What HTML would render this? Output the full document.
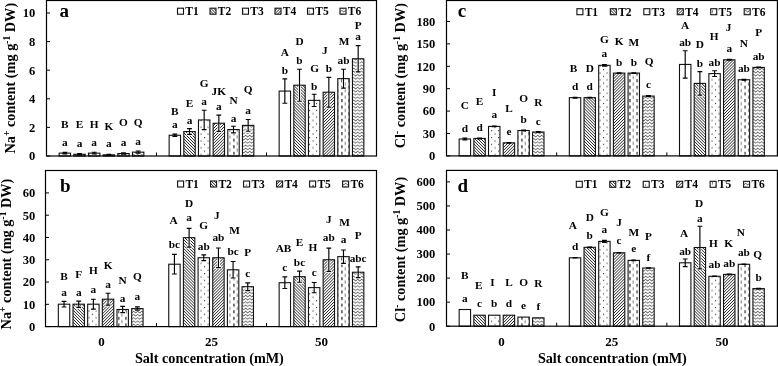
<!DOCTYPE html>
<html><head><meta charset="utf-8"><style>
html,body{margin:0;padding:0;background:#fff;width:778px;height:366px;overflow:hidden}
svg{display:block;will-change:transform}
text{font-family:"Liberation Serif", serif;font-weight:bold;fill:#000}
.l{font-size:11.3px;text-anchor:middle}
.t{font-size:12.5px}
.c{font-size:13px}
.p{font-size:19px}
.g{font-size:11.5px}
.y{font-size:14.3px}
.s{font-size:9.5px}
.x{font-size:14.2px}
</style></head><body>
<svg width="778" height="366" viewBox="0 0 778 366">
<defs>
<pattern id="p2" width="2.1" height="2.1" patternUnits="userSpaceOnUse" patternTransform="rotate(-45)"><rect x="0" y="0" width="0.72" height="2.1" fill="#222"/></pattern>
<pattern id="p4" width="2.1" height="2.1" patternUnits="userSpaceOnUse" patternTransform="rotate(45)"><rect x="0" y="0" width="0.72" height="2.1" fill="#222"/></pattern>
<pattern id="p3" width="7" height="6.8" patternUnits="userSpaceOnUse"><rect x="1" y="1" width="1.1" height="1.1" fill="#333"/><rect x="4.5" y="4.4" width="1.1" height="1.1" fill="#333"/></pattern>
<pattern id="p5" width="7.2" height="6.6" patternUnits="userSpaceOnUse"><rect x="3" y="0" width="1.1" height="3.1" fill="#1a1a1a"/><rect x="6.6" y="3.3" width="1.1" height="3.1" fill="#1a1a1a"/></pattern>
<pattern id="p6" width="4" height="3.2" patternUnits="userSpaceOnUse"><path d="M-2 0.9L-1 2.2L0 2.4L1 1.2L2 0.9L3 2.2L4 2.4L5 1.2L6 0.9" stroke="#333" stroke-width="0.8" fill="none"/></pattern>
</defs>
<rect x="59.14" y="153.14" width="11.4" height="2.86" fill="#fff"/>
<rect x="59.14" y="153.14" width="11.4" height="2.86" fill="none" stroke="#111" stroke-width="1.1"/>
<path d="M64.84 152.42V153.85M62.44 152.42H67.24M62.44 153.85H67.24" stroke="#000" stroke-width="1.15" fill="none"/>
<text x="64.84" y="146.29" class="l">a</text>
<text x="64.84" y="127.79" class="l">B</text>
<rect x="73.81" y="154.28" width="11.4" height="1.72" fill="#fff"/>
<rect x="73.81" y="154.28" width="11.4" height="1.72" fill="url(#p2)"/>
<rect x="73.81" y="154.28" width="11.4" height="1.72" fill="none" stroke="#111" stroke-width="1.1"/>
<path d="M79.51 153.57V155M77.11 153.57H81.91M77.11 155H81.91" stroke="#000" stroke-width="1.15" fill="none"/>
<text x="79.51" y="146.89" class="l">a</text>
<text x="79.51" y="127.79" class="l">E</text>
<rect x="88.47" y="153.14" width="11.4" height="2.86" fill="#fff"/>
<rect x="88.47" y="153.14" width="11.4" height="2.86" fill="url(#p3)"/>
<rect x="88.47" y="153.14" width="11.4" height="2.86" fill="none" stroke="#111" stroke-width="1.1"/>
<path d="M94.17 152.28V154M91.77 152.28H96.57M91.77 154H96.57" stroke="#000" stroke-width="1.15" fill="none"/>
<text x="94.17" y="145.99" class="l">a</text>
<text x="94.17" y="127.79" class="l">H</text>
<rect x="103.13" y="154.86" width="11.4" height="1.14" fill="#fff"/>
<rect x="103.13" y="154.86" width="11.4" height="1.14" fill="url(#p4)"/>
<rect x="103.13" y="154.86" width="11.4" height="1.14" fill="none" stroke="#111" stroke-width="1.1"/>
<path d="M108.83 154.43V155.28M106.43 154.43H111.23M106.43 155.28H111.23" stroke="#000" stroke-width="1.15" fill="none"/>
<text x="108.83" y="147.19" class="l">a</text>
<text x="108.83" y="130.19" class="l">K</text>
<rect x="117.8" y="153.57" width="11.4" height="2.43" fill="#fff"/>
<rect x="117.8" y="153.57" width="11.4" height="2.43" fill="url(#p5)"/>
<rect x="117.8" y="153.57" width="11.4" height="2.43" fill="none" stroke="#111" stroke-width="1.1"/>
<path d="M123.49 152.85V154.28M121.09 152.85H125.89M121.09 154.28H125.89" stroke="#000" stroke-width="1.15" fill="none"/>
<text x="123.49" y="145.99" class="l">a</text>
<text x="123.49" y="126.19" class="l">O</text>
<rect x="132.46" y="152.14" width="11.4" height="3.86" fill="#fff"/>
<rect x="132.46" y="152.14" width="11.4" height="3.86" fill="url(#p6)"/>
<rect x="132.46" y="152.14" width="11.4" height="3.86" fill="none" stroke="#111" stroke-width="1.1"/>
<path d="M138.16 151V153.28M135.76 151H140.56M135.76 153.28H140.56" stroke="#000" stroke-width="1.15" fill="none"/>
<text x="138.16" y="144.99" class="l">a</text>
<text x="138.16" y="126.49" class="l">Q</text>
<rect x="169.14" y="135.26" width="11.4" height="20.74" fill="#fff"/>
<rect x="169.14" y="135.26" width="11.4" height="20.74" fill="none" stroke="#111" stroke-width="1.1"/>
<path d="M174.84 134.12V136.41M172.44 134.12H177.24M172.44 136.41H177.24" stroke="#000" stroke-width="1.15" fill="none"/>
<text x="174.84" y="127.69" class="l">a</text>
<text x="174.84" y="114.69" class="l">B</text>
<rect x="183.81" y="131.55" width="11.4" height="24.45" fill="#fff"/>
<rect x="183.81" y="131.55" width="11.4" height="24.45" fill="url(#p2)"/>
<rect x="183.81" y="131.55" width="11.4" height="24.45" fill="none" stroke="#111" stroke-width="1.1"/>
<path d="M189.51 132.15V135.61M186.31 134.41H192.71" stroke="#fff" stroke-width="2.8" fill="none"/>
<path d="M189.51 128.69V134.41M187.11 128.69H191.91M187.11 134.41H191.91" stroke="#000" stroke-width="1.15" fill="none"/>
<text x="189.51" y="123.99" class="l">a</text>
<text x="189.51" y="107.09" class="l">E</text>
<rect x="198.47" y="119.96" width="11.4" height="36.04" fill="#fff"/>
<rect x="198.47" y="119.96" width="11.4" height="36.04" fill="url(#p3)"/>
<rect x="198.47" y="119.96" width="11.4" height="36.04" fill="none" stroke="#111" stroke-width="1.1"/>
<path d="M204.17 120.56V130.89M200.97 129.69H207.37" stroke="#fff" stroke-width="2.8" fill="none"/>
<path d="M204.17 110.24V129.69M201.77 110.24H206.57M201.77 129.69H206.57" stroke="#000" stroke-width="1.15" fill="none"/>
<text x="204.17" y="105.39" class="l">a</text>
<text x="204.17" y="86.79" class="l">G</text>
<rect x="213.13" y="123.25" width="11.4" height="32.75" fill="#fff"/>
<rect x="213.13" y="123.25" width="11.4" height="32.75" fill="url(#p4)"/>
<rect x="213.13" y="123.25" width="11.4" height="32.75" fill="none" stroke="#111" stroke-width="1.1"/>
<path d="M218.83 123.85V132.6M215.63 131.4H222.03" stroke="#fff" stroke-width="2.8" fill="none"/>
<path d="M218.83 115.1V131.4M216.43 115.1H221.23M216.43 131.4H221.23" stroke="#000" stroke-width="1.15" fill="none"/>
<text x="218.83" y="109.79" class="l">a</text>
<text x="218.83" y="94.59" class="l">JK</text>
<rect x="227.8" y="129.54" width="11.4" height="26.46" fill="#fff"/>
<rect x="227.8" y="129.54" width="11.4" height="26.46" fill="url(#p5)"/>
<rect x="227.8" y="129.54" width="11.4" height="26.46" fill="none" stroke="#111" stroke-width="1.1"/>
<path d="M233.49 130.14V134.03M230.29 132.83H236.69" stroke="#fff" stroke-width="2.8" fill="none"/>
<path d="M233.49 126.26V132.83M231.09 126.26H235.89M231.09 132.83H235.89" stroke="#000" stroke-width="1.15" fill="none"/>
<text x="233.49" y="121.79" class="l">a</text>
<text x="233.49" y="103.79" class="l">N</text>
<rect x="242.46" y="125.4" width="11.4" height="30.6" fill="#fff"/>
<rect x="242.46" y="125.4" width="11.4" height="30.6" fill="url(#p6)"/>
<rect x="242.46" y="125.4" width="11.4" height="30.6" fill="none" stroke="#111" stroke-width="1.1"/>
<path d="M248.16 126V132.46M244.96 131.26H251.36" stroke="#fff" stroke-width="2.8" fill="none"/>
<path d="M248.16 119.53V131.26M245.76 119.53H250.56M245.76 131.26H250.56" stroke="#000" stroke-width="1.15" fill="none"/>
<text x="248.16" y="113.69" class="l">a</text>
<text x="248.16" y="92.89" class="l">Q</text>
<rect x="279.14" y="91.08" width="11.4" height="64.92" fill="#fff"/>
<rect x="279.14" y="91.08" width="11.4" height="64.92" fill="none" stroke="#111" stroke-width="1.1"/>
<path d="M284.84 78.92V103.23M282.44 78.92H287.24M282.44 103.23H287.24" stroke="#000" stroke-width="1.15" fill="none"/>
<text x="284.84" y="74.19" class="l">b</text>
<text x="284.84" y="55.59" class="l">A</text>
<rect x="293.81" y="85.21" width="11.4" height="70.79" fill="#fff"/>
<rect x="293.81" y="85.21" width="11.4" height="70.79" fill="url(#p2)"/>
<rect x="293.81" y="85.21" width="11.4" height="70.79" fill="none" stroke="#111" stroke-width="1.1"/>
<path d="M299.51 85.81V102.43M296.31 101.23H302.71" stroke="#fff" stroke-width="2.8" fill="none"/>
<path d="M299.51 69.2V101.23M297.11 69.2H301.91M297.11 101.23H301.91" stroke="#000" stroke-width="1.15" fill="none"/>
<text x="299.51" y="64.29" class="l">b</text>
<text x="299.51" y="45.09" class="l">D</text>
<rect x="308.47" y="100.37" width="11.4" height="55.63" fill="#fff"/>
<rect x="308.47" y="100.37" width="11.4" height="55.63" fill="url(#p3)"/>
<rect x="308.47" y="100.37" width="11.4" height="55.63" fill="none" stroke="#111" stroke-width="1.1"/>
<path d="M314.17 100.97V107.72M310.97 106.52H317.37" stroke="#fff" stroke-width="2.8" fill="none"/>
<path d="M314.17 94.22V106.52M311.77 94.22H316.57M311.77 106.52H316.57" stroke="#000" stroke-width="1.15" fill="none"/>
<text x="314.17" y="89.89" class="l">b</text>
<text x="314.67" y="72.39" class="l">G</text>
<rect x="323.13" y="92.22" width="11.4" height="63.78" fill="#fff"/>
<rect x="323.13" y="92.22" width="11.4" height="63.78" fill="url(#p4)"/>
<rect x="323.13" y="92.22" width="11.4" height="63.78" fill="none" stroke="#111" stroke-width="1.1"/>
<path d="M328.83 92.82V108.29M325.63 107.09H332.03" stroke="#fff" stroke-width="2.8" fill="none"/>
<path d="M328.83 77.35V107.09M326.43 77.35H331.23M326.43 107.09H331.23" stroke="#000" stroke-width="1.15" fill="none"/>
<text x="328.83" y="71.69" class="l">b</text>
<text x="324.83" y="53.79" class="l">J</text>
<rect x="337.8" y="78.64" width="11.4" height="77.36" fill="#fff"/>
<rect x="337.8" y="78.64" width="11.4" height="77.36" fill="url(#p5)"/>
<rect x="337.8" y="78.64" width="11.4" height="77.36" fill="none" stroke="#111" stroke-width="1.1"/>
<path d="M343.49 79.24V89.28M340.29 88.08H346.69" stroke="#fff" stroke-width="2.8" fill="none"/>
<path d="M343.49 69.2V88.08M341.09 69.2H345.89M341.09 88.08H345.89" stroke="#000" stroke-width="1.15" fill="none"/>
<text x="343.49" y="64.29" class="l">ab</text>
<text x="344.09" y="44.59" class="l">M</text>
<rect x="352.46" y="58.76" width="11.4" height="97.24" fill="#fff"/>
<rect x="352.46" y="58.76" width="11.4" height="97.24" fill="url(#p6)"/>
<rect x="352.46" y="58.76" width="11.4" height="97.24" fill="none" stroke="#111" stroke-width="1.1"/>
<path d="M358.16 59.36V73.12M354.96 71.92H361.36" stroke="#fff" stroke-width="2.8" fill="none"/>
<path d="M358.16 45.6V71.92M355.76 45.6H360.56M355.76 71.92H360.56" stroke="#000" stroke-width="1.15" fill="none"/>
<text x="358.16" y="40.09" class="l">a</text>
<text x="358.16" y="29.29" class="l">P</text>
<rect x="46.5" y="0.5" width="330" height="155.5" fill="none" stroke="#000" stroke-width="1.2"/>
<path d="M46.5 156H50" stroke="#000" stroke-width="1"/>
<text x="35.3" y="160.3" class="t" text-anchor="end">0</text>
<path d="M46.5 127.4H50" stroke="#000" stroke-width="1"/>
<text x="35.3" y="131.7" class="t" text-anchor="end">2</text>
<path d="M46.5 98.8H50" stroke="#000" stroke-width="1"/>
<text x="35.3" y="103.1" class="t" text-anchor="end">4</text>
<path d="M46.5 70.2H50" stroke="#000" stroke-width="1"/>
<text x="35.3" y="74.5" class="t" text-anchor="end">6</text>
<path d="M46.5 41.6H50" stroke="#000" stroke-width="1"/>
<text x="35.3" y="45.9" class="t" text-anchor="end">8</text>
<path d="M46.5 13H50" stroke="#000" stroke-width="1"/>
<text x="35.3" y="17.3" class="t" text-anchor="end">10</text>
<path d="M156.5 156V152.5" stroke="#000" stroke-width="1"/>
<path d="M266.5 156V152.5" stroke="#000" stroke-width="1"/>
<text x="59.4" y="17" class="p">a</text>
<rect x="177.5" y="8.2" width="6" height="6" fill="#fff" stroke="#111" stroke-width="1.1"/>
<text x="185.3" y="15.1" class="g">T1</text>
<rect x="210" y="8.2" width="6" height="6" fill="#fff" stroke="#111" stroke-width="1.1"/>
<rect x="210" y="8.2" width="6" height="6" fill="url(#p2)"/>
<text x="217.8" y="15.1" class="g">T2</text>
<rect x="242.5" y="8.2" width="6" height="6" fill="#fff" stroke="#111" stroke-width="1.1"/>
<rect x="242.5" y="8.2" width="6" height="6" fill="url(#p3)"/>
<text x="250.3" y="15.1" class="g">T3</text>
<rect x="275" y="8.2" width="6" height="6" fill="#fff" stroke="#111" stroke-width="1.1"/>
<rect x="275" y="8.2" width="6" height="6" fill="url(#p4)"/>
<text x="282.8" y="15.1" class="g">T4</text>
<rect x="307.5" y="8.2" width="6" height="6" fill="#fff" stroke="#111" stroke-width="1.1"/>
<rect x="307.5" y="8.2" width="6" height="6" fill="url(#p5)"/>
<text x="315.3" y="15.1" class="g">T5</text>
<rect x="340" y="8.2" width="6" height="6" fill="#fff" stroke="#111" stroke-width="1.1"/>
<rect x="340" y="8.2" width="6" height="6" fill="url(#p6)"/>
<text x="347.8" y="15.1" class="g">T6</text>
<text transform="translate(14.8 78.2) rotate(-90)" class="y" text-anchor="middle">Na<tspan class="s" dy="-5">+</tspan><tspan dy="5"> content (mg g</tspan><tspan class="s" dy="-5">-1</tspan><tspan dy="5"> DW)</tspan></text>
<rect x="58.34" y="304.19" width="11.4" height="22.41" fill="#fff"/>
<rect x="58.34" y="304.19" width="11.4" height="22.41" fill="none" stroke="#111" stroke-width="1.1"/>
<path d="M64.04 301.38V306.99M61.64 301.38H66.44M61.64 306.99H66.44" stroke="#000" stroke-width="1.15" fill="none"/>
<text x="64.04" y="296.29" class="l">a</text>
<text x="64.04" y="280.49" class="l">B</text>
<rect x="73.01" y="304.19" width="11.4" height="22.41" fill="#fff"/>
<rect x="73.01" y="304.19" width="11.4" height="22.41" fill="url(#p2)"/>
<rect x="73.01" y="304.19" width="11.4" height="22.41" fill="none" stroke="#111" stroke-width="1.1"/>
<path d="M78.71 304.79V308.51M75.51 307.31H81.91" stroke="#fff" stroke-width="2.8" fill="none"/>
<path d="M78.71 301.07V307.31M76.31 301.07H81.11M76.31 307.31H81.11" stroke="#000" stroke-width="1.15" fill="none"/>
<text x="78.71" y="296.29" class="l">a</text>
<text x="78.71" y="277.89" class="l">F</text>
<rect x="87.67" y="304.19" width="11.4" height="22.41" fill="#fff"/>
<rect x="87.67" y="304.19" width="11.4" height="22.41" fill="url(#p3)"/>
<rect x="87.67" y="304.19" width="11.4" height="22.41" fill="none" stroke="#111" stroke-width="1.1"/>
<path d="M93.37 304.79V310.29M90.17 309.09H96.57" stroke="#fff" stroke-width="2.8" fill="none"/>
<path d="M93.37 299.28V309.09M90.97 299.28H95.77M90.97 309.09H95.77" stroke="#000" stroke-width="1.15" fill="none"/>
<text x="93.37" y="293.49" class="l">a</text>
<text x="93.37" y="274.39" class="l">H</text>
<rect x="102.33" y="299.2" width="11.4" height="27.4" fill="#fff"/>
<rect x="102.33" y="299.2" width="11.4" height="27.4" fill="url(#p4)"/>
<rect x="102.33" y="299.2" width="11.4" height="27.4" fill="none" stroke="#111" stroke-width="1.1"/>
<path d="M108.03 299.8V306.3M104.83 305.1H111.23" stroke="#fff" stroke-width="2.8" fill="none"/>
<path d="M108.03 293.29V305.1M105.63 293.29H110.43M105.63 305.1H110.43" stroke="#000" stroke-width="1.15" fill="none"/>
<text x="108.03" y="288.19" class="l">a</text>
<text x="108.03" y="268.89" class="l">K</text>
<rect x="117" y="309.49" width="11.4" height="17.11" fill="#fff"/>
<rect x="117" y="309.49" width="11.4" height="17.11" fill="url(#p5)"/>
<rect x="117" y="309.49" width="11.4" height="17.11" fill="none" stroke="#111" stroke-width="1.1"/>
<path d="M122.69 310.09V313.81M119.49 312.61H125.89" stroke="#fff" stroke-width="2.8" fill="none"/>
<path d="M122.69 306.37V312.61M120.29 306.37H125.09M120.29 312.61H125.09" stroke="#000" stroke-width="1.15" fill="none"/>
<text x="122.69" y="301.79" class="l">a</text>
<text x="122.69" y="283.79" class="l">N</text>
<rect x="131.66" y="308.6" width="11.4" height="18" fill="#fff"/>
<rect x="131.66" y="308.6" width="11.4" height="18" fill="url(#p6)"/>
<rect x="131.66" y="308.6" width="11.4" height="18" fill="none" stroke="#111" stroke-width="1.1"/>
<path d="M137.36 306.9V310.29M134.96 306.9H139.76M134.96 310.29H139.76" stroke="#000" stroke-width="1.15" fill="none"/>
<text x="137.36" y="300.29" class="l">a</text>
<text x="137.36" y="279.89" class="l">Q</text>
<rect x="168.74" y="264.22" width="11.4" height="62.38" fill="#fff"/>
<rect x="168.74" y="264.22" width="11.4" height="62.38" fill="none" stroke="#111" stroke-width="1.1"/>
<path d="M174.44 254.41V274.02M172.04 254.41H176.84M172.04 274.02H176.84" stroke="#000" stroke-width="1.15" fill="none"/>
<text x="174.44" y="247.89" class="l">bc</text>
<text x="173.54" y="224.49" class="l">A</text>
<rect x="183.41" y="237.7" width="11.4" height="88.9" fill="#fff"/>
<rect x="183.41" y="237.7" width="11.4" height="88.9" fill="url(#p2)"/>
<rect x="183.41" y="237.7" width="11.4" height="88.9" fill="none" stroke="#111" stroke-width="1.1"/>
<path d="M189.11 238.3V248.26M185.91 247.06H192.31" stroke="#fff" stroke-width="2.8" fill="none"/>
<path d="M189.11 228.35V247.06M186.71 228.35H191.51M186.71 247.06H191.51" stroke="#000" stroke-width="1.15" fill="none"/>
<text x="189.11" y="220.99" class="l">a</text>
<text x="189.11" y="206.99" class="l">D</text>
<rect x="198.07" y="257.75" width="11.4" height="68.85" fill="#fff"/>
<rect x="198.07" y="257.75" width="11.4" height="68.85" fill="url(#p3)"/>
<rect x="198.07" y="257.75" width="11.4" height="68.85" fill="none" stroke="#111" stroke-width="1.1"/>
<path d="M203.77 258.35V261.85M200.57 260.65H206.97" stroke="#fff" stroke-width="2.8" fill="none"/>
<path d="M203.77 254.86V260.65M201.37 254.86H206.17M201.37 260.65H206.17" stroke="#000" stroke-width="1.15" fill="none"/>
<text x="203.77" y="249.59" class="l">ab</text>
<text x="203.77" y="228.79" class="l">G</text>
<rect x="212.73" y="257.75" width="11.4" height="68.85" fill="#fff"/>
<rect x="212.73" y="257.75" width="11.4" height="68.85" fill="url(#p4)"/>
<rect x="212.73" y="257.75" width="11.4" height="68.85" fill="none" stroke="#111" stroke-width="1.1"/>
<path d="M218.43 258.35V268.76M215.23 267.56H221.63" stroke="#fff" stroke-width="2.8" fill="none"/>
<path d="M218.43 247.95V267.56M216.03 247.95H220.83M216.03 267.56H220.83" stroke="#000" stroke-width="1.15" fill="none"/>
<text x="218.43" y="240.89" class="l">ab</text>
<text x="216.93" y="219.39" class="l">J</text>
<rect x="227.4" y="269.79" width="11.4" height="56.81" fill="#fff"/>
<rect x="227.4" y="269.79" width="11.4" height="56.81" fill="url(#p5)"/>
<rect x="227.4" y="269.79" width="11.4" height="56.81" fill="none" stroke="#111" stroke-width="1.1"/>
<path d="M233.09 270.39V279.23M229.89 278.03H236.29" stroke="#fff" stroke-width="2.8" fill="none"/>
<path d="M233.09 261.54V278.03M230.69 261.54H235.49M230.69 278.03H235.49" stroke="#000" stroke-width="1.15" fill="none"/>
<text x="233.09" y="255.09" class="l">bc</text>
<text x="234.59" y="233.69" class="l">M</text>
<rect x="242.06" y="286.72" width="11.4" height="39.88" fill="#fff"/>
<rect x="242.06" y="286.72" width="11.4" height="39.88" fill="url(#p6)"/>
<rect x="242.06" y="286.72" width="11.4" height="39.88" fill="none" stroke="#111" stroke-width="1.1"/>
<path d="M247.76 287.32V291.82M244.56 290.62H250.96" stroke="#fff" stroke-width="2.8" fill="none"/>
<path d="M247.76 282.82V290.62M245.36 282.82H250.16M245.36 290.62H250.16" stroke="#000" stroke-width="1.15" fill="none"/>
<text x="247.76" y="277.09" class="l">c</text>
<text x="247.76" y="255.99" class="l">P</text>
<rect x="279.14" y="282.71" width="11.4" height="43.89" fill="#fff"/>
<rect x="279.14" y="282.71" width="11.4" height="43.89" fill="none" stroke="#111" stroke-width="1.1"/>
<path d="M284.84 276.92V288.5M282.44 276.92H287.24M282.44 288.5H287.24" stroke="#000" stroke-width="1.15" fill="none"/>
<text x="284.84" y="271.19" class="l">c</text>
<text x="283.54" y="251.79" class="l">AB</text>
<rect x="293.81" y="276.69" width="11.4" height="49.91" fill="#fff"/>
<rect x="293.81" y="276.69" width="11.4" height="49.91" fill="url(#p2)"/>
<rect x="293.81" y="276.69" width="11.4" height="49.91" fill="none" stroke="#111" stroke-width="1.1"/>
<path d="M299.51 277.29V283.46M296.31 282.26H302.71" stroke="#fff" stroke-width="2.8" fill="none"/>
<path d="M299.51 271.12V282.26M297.11 271.12H301.91M297.11 282.26H301.91" stroke="#000" stroke-width="1.15" fill="none"/>
<text x="299.51" y="265.89" class="l">bc</text>
<text x="299.51" y="246.29" class="l">E</text>
<rect x="308.47" y="287.61" width="11.4" height="38.99" fill="#fff"/>
<rect x="308.47" y="287.61" width="11.4" height="38.99" fill="url(#p3)"/>
<rect x="308.47" y="287.61" width="11.4" height="38.99" fill="none" stroke="#111" stroke-width="1.1"/>
<path d="M314.17 288.21V293.93M310.97 292.73H317.37" stroke="#fff" stroke-width="2.8" fill="none"/>
<path d="M314.17 282.49V292.73M311.77 282.49H316.57M311.77 292.73H316.57" stroke="#000" stroke-width="1.15" fill="none"/>
<text x="314.17" y="276.19" class="l">c</text>
<text x="312.87" y="250.69" class="l">H</text>
<rect x="323.13" y="259.76" width="11.4" height="66.84" fill="#fff"/>
<rect x="323.13" y="259.76" width="11.4" height="66.84" fill="url(#p4)"/>
<rect x="323.13" y="259.76" width="11.4" height="66.84" fill="none" stroke="#111" stroke-width="1.1"/>
<path d="M328.83 260.36V272.55M325.63 271.35H332.03" stroke="#fff" stroke-width="2.8" fill="none"/>
<path d="M328.83 248.17V271.35M326.43 248.17H331.23M326.43 271.35H331.23" stroke="#000" stroke-width="1.15" fill="none"/>
<text x="328.83" y="240.89" class="l">ab</text>
<text x="328.83" y="223.39" class="l">J</text>
<rect x="337.8" y="256.64" width="11.4" height="69.96" fill="#fff"/>
<rect x="337.8" y="256.64" width="11.4" height="69.96" fill="url(#p5)"/>
<rect x="337.8" y="256.64" width="11.4" height="69.96" fill="none" stroke="#111" stroke-width="1.1"/>
<path d="M343.49 257.24V264.52M340.29 263.32H346.69" stroke="#fff" stroke-width="2.8" fill="none"/>
<path d="M343.49 249.96V263.32M341.09 249.96H345.89M341.09 263.32H345.89" stroke="#000" stroke-width="1.15" fill="none"/>
<text x="343.49" y="242.89" class="l">a</text>
<text x="344.59" y="226.39" class="l">M</text>
<rect x="352.46" y="272.24" width="11.4" height="54.36" fill="#fff"/>
<rect x="352.46" y="272.24" width="11.4" height="54.36" fill="url(#p6)"/>
<rect x="352.46" y="272.24" width="11.4" height="54.36" fill="none" stroke="#111" stroke-width="1.1"/>
<path d="M358.16 272.84V278.78M354.96 277.58H361.36" stroke="#fff" stroke-width="2.8" fill="none"/>
<path d="M358.16 266.89V277.58M355.76 266.89H360.56M355.76 277.58H360.56" stroke="#000" stroke-width="1.15" fill="none"/>
<text x="358.16" y="261.59" class="l">abc</text>
<text x="358.16" y="238.69" class="l">P</text>
<rect x="45.5" y="170.5" width="331" height="156.1" fill="none" stroke="#000" stroke-width="1.2"/>
<path d="M45.5 326.6H49" stroke="#000" stroke-width="1"/>
<text x="35.3" y="330.9" class="t" text-anchor="end">0</text>
<path d="M45.5 304.32H49" stroke="#000" stroke-width="1"/>
<text x="35.3" y="308.62" class="t" text-anchor="end">10</text>
<path d="M45.5 282.04H49" stroke="#000" stroke-width="1"/>
<text x="35.3" y="286.34" class="t" text-anchor="end">20</text>
<path d="M45.5 259.76H49" stroke="#000" stroke-width="1"/>
<text x="35.3" y="264.06" class="t" text-anchor="end">30</text>
<path d="M45.5 237.48H49" stroke="#000" stroke-width="1"/>
<text x="35.3" y="241.78" class="t" text-anchor="end">40</text>
<path d="M45.5 215.2H49" stroke="#000" stroke-width="1"/>
<text x="35.3" y="219.5" class="t" text-anchor="end">50</text>
<path d="M45.5 192.92H49" stroke="#000" stroke-width="1"/>
<text x="35.3" y="197.22" class="t" text-anchor="end">60</text>
<path d="M156.5 326.6V323.1" stroke="#000" stroke-width="1"/>
<path d="M266.5 326.6V323.1" stroke="#000" stroke-width="1"/>
<text x="60" y="191.5" class="p">b</text>
<rect x="177.6" y="181" width="6" height="6" fill="#fff" stroke="#111" stroke-width="1.1"/>
<text x="185.4" y="187.9" class="g">T1</text>
<rect x="210.6" y="181" width="6" height="6" fill="#fff" stroke="#111" stroke-width="1.1"/>
<rect x="210.6" y="181" width="6" height="6" fill="url(#p2)"/>
<text x="218.4" y="187.9" class="g">T2</text>
<rect x="243.6" y="181" width="6" height="6" fill="#fff" stroke="#111" stroke-width="1.1"/>
<rect x="243.6" y="181" width="6" height="6" fill="url(#p3)"/>
<text x="251.4" y="187.9" class="g">T3</text>
<rect x="276.6" y="181" width="6" height="6" fill="#fff" stroke="#111" stroke-width="1.1"/>
<rect x="276.6" y="181" width="6" height="6" fill="url(#p4)"/>
<text x="284.4" y="187.9" class="g">T4</text>
<rect x="309.6" y="181" width="6" height="6" fill="#fff" stroke="#111" stroke-width="1.1"/>
<rect x="309.6" y="181" width="6" height="6" fill="url(#p5)"/>
<text x="317.4" y="187.9" class="g">T5</text>
<rect x="342.6" y="181" width="6" height="6" fill="#fff" stroke="#111" stroke-width="1.1"/>
<rect x="342.6" y="181" width="6" height="6" fill="url(#p6)"/>
<text x="350.4" y="187.9" class="g">T6</text>
<text transform="translate(10.6 254) rotate(-90)" class="y" text-anchor="middle">Na<tspan class="s" dy="-5">+</tspan><tspan dy="5"> content (mg g</tspan><tspan class="s" dy="-5">-1</tspan><tspan dy="5"> DW)</tspan></text>
<rect x="459.16" y="139.02" width="11.41" height="16.88" fill="#fff"/>
<rect x="459.16" y="139.02" width="11.41" height="16.88" fill="none" stroke="#111" stroke-width="1.1"/>
<path d="M464.87 138.13V139.92M462.47 138.13H467.27M462.47 139.92H467.27" stroke="#000" stroke-width="1.15" fill="none"/>
<text x="464.87" y="131.69" class="l">d</text>
<text x="464.87" y="108.99" class="l">C</text>
<rect x="473.85" y="138.43" width="11.41" height="17.47" fill="#fff"/>
<rect x="473.85" y="138.43" width="11.41" height="17.47" fill="url(#p2)"/>
<rect x="473.85" y="138.43" width="11.41" height="17.47" fill="none" stroke="#111" stroke-width="1.1"/>
<path d="M479.56 137.98V138.88M477.16 137.98H481.96M477.16 138.88H481.96" stroke="#000" stroke-width="1.15" fill="none"/>
<text x="479.56" y="131.29" class="l">d</text>
<text x="479.56" y="104.59" class="l">E</text>
<rect x="488.53" y="126.41" width="11.41" height="29.49" fill="#fff"/>
<rect x="488.53" y="126.41" width="11.41" height="29.49" fill="url(#p3)"/>
<rect x="488.53" y="126.41" width="11.41" height="29.49" fill="none" stroke="#111" stroke-width="1.1"/>
<path d="M494.24 126.03V126.78M491.84 126.03H496.64M491.84 126.78H496.64" stroke="#000" stroke-width="1.15" fill="none"/>
<text x="494.24" y="118.19" class="l">a</text>
<text x="494.24" y="95.89" class="l">I</text>
<rect x="503.22" y="142.83" width="11.41" height="13.07" fill="#fff"/>
<rect x="503.22" y="142.83" width="11.41" height="13.07" fill="url(#p4)"/>
<rect x="503.22" y="142.83" width="11.41" height="13.07" fill="none" stroke="#111" stroke-width="1.1"/>
<path d="M508.93 142.46V143.21M506.53 142.46H511.33M506.53 143.21H511.33" stroke="#000" stroke-width="1.15" fill="none"/>
<text x="508.93" y="134.59" class="l">e</text>
<text x="508.93" y="111.59" class="l">L</text>
<rect x="517.9" y="130.51" width="11.41" height="25.39" fill="#fff"/>
<rect x="517.9" y="130.51" width="11.41" height="25.39" fill="url(#p5)"/>
<rect x="517.9" y="130.51" width="11.41" height="25.39" fill="none" stroke="#111" stroke-width="1.1"/>
<path d="M523.61 130.14V130.89M521.21 130.14H526.01M521.21 130.89H526.01" stroke="#000" stroke-width="1.15" fill="none"/>
<text x="523.61" y="122.59" class="l">b</text>
<text x="523.61" y="101.79" class="l">O</text>
<rect x="532.59" y="132.01" width="11.41" height="23.89" fill="#fff"/>
<rect x="532.59" y="132.01" width="11.41" height="23.89" fill="url(#p6)"/>
<rect x="532.59" y="132.01" width="11.41" height="23.89" fill="none" stroke="#111" stroke-width="1.1"/>
<path d="M538.3 131.63V132.38M535.9 131.63H540.7M535.9 132.38H540.7" stroke="#000" stroke-width="1.15" fill="none"/>
<text x="538.3" y="124.59" class="l">c</text>
<text x="538.3" y="106.19" class="l">R</text>
<rect x="569.33" y="97.66" width="11.41" height="58.24" fill="#fff"/>
<rect x="569.33" y="97.66" width="11.41" height="58.24" fill="none" stroke="#111" stroke-width="1.1"/>
<path d="M575.04 97.21V98.11M572.64 97.21H577.44M572.64 98.11H577.44" stroke="#000" stroke-width="1.15" fill="none"/>
<text x="575.04" y="89.89" class="l">d</text>
<text x="573.64" y="72.39" class="l">B</text>
<rect x="584.02" y="97.66" width="11.41" height="58.24" fill="#fff"/>
<rect x="584.02" y="97.66" width="11.41" height="58.24" fill="url(#p2)"/>
<rect x="584.02" y="97.66" width="11.41" height="58.24" fill="none" stroke="#111" stroke-width="1.1"/>
<path d="M589.72 97.28V98.03M587.32 97.28H592.12M587.32 98.03H592.12" stroke="#000" stroke-width="1.15" fill="none"/>
<text x="589.72" y="89.89" class="l">d</text>
<text x="589.72" y="72.39" class="l">D</text>
<rect x="598.7" y="65.33" width="11.41" height="90.57" fill="#fff"/>
<rect x="598.7" y="65.33" width="11.41" height="90.57" fill="url(#p3)"/>
<rect x="598.7" y="65.33" width="11.41" height="90.57" fill="none" stroke="#111" stroke-width="1.1"/>
<path d="M604.41 64.58V66.07M602.01 64.58H606.81M602.01 66.07H606.81" stroke="#000" stroke-width="1.15" fill="none"/>
<text x="604.41" y="57.19" class="l">a</text>
<text x="604.41" y="43.29" class="l">G</text>
<rect x="613.39" y="73.09" width="11.41" height="82.81" fill="#fff"/>
<rect x="613.39" y="73.09" width="11.41" height="82.81" fill="url(#p4)"/>
<rect x="613.39" y="73.09" width="11.41" height="82.81" fill="none" stroke="#111" stroke-width="1.1"/>
<path d="M619.09 72.72V73.46M616.69 72.72H621.49M616.69 73.46H621.49" stroke="#000" stroke-width="1.15" fill="none"/>
<text x="619.09" y="65.79" class="l">b</text>
<text x="619.09" y="44.59" class="l">K</text>
<rect x="628.07" y="73.09" width="11.41" height="82.81" fill="#fff"/>
<rect x="628.07" y="73.09" width="11.41" height="82.81" fill="url(#p5)"/>
<rect x="628.07" y="73.09" width="11.41" height="82.81" fill="none" stroke="#111" stroke-width="1.1"/>
<path d="M633.78 72.72V73.46M631.38 72.72H636.18M631.38 73.46H636.18" stroke="#000" stroke-width="1.15" fill="none"/>
<text x="633.78" y="65.79" class="l">b</text>
<text x="633.78" y="45.69" class="l">M</text>
<rect x="642.76" y="96.09" width="11.41" height="59.81" fill="#fff"/>
<rect x="642.76" y="96.09" width="11.41" height="59.81" fill="url(#p6)"/>
<rect x="642.76" y="96.09" width="11.41" height="59.81" fill="none" stroke="#111" stroke-width="1.1"/>
<path d="M648.46 95.64V96.54M646.06 95.64H650.86M646.06 96.54H650.86" stroke="#000" stroke-width="1.15" fill="none"/>
<text x="648.46" y="88.19" class="l">c</text>
<text x="649.26" y="65.39" class="l">Q</text>
<rect x="679.5" y="64.43" width="11.41" height="91.47" fill="#fff"/>
<rect x="679.5" y="64.43" width="11.41" height="91.47" fill="none" stroke="#111" stroke-width="1.1"/>
<path d="M685.2 50.76V78.09M682.8 50.76H687.6M682.8 78.09H687.6" stroke="#000" stroke-width="1.15" fill="none"/>
<text x="685.2" y="45.69" class="l">ab</text>
<text x="685.2" y="29.29" class="l">A</text>
<rect x="694.18" y="83.4" width="11.41" height="72.5" fill="#fff"/>
<rect x="694.18" y="83.4" width="11.41" height="72.5" fill="url(#p2)"/>
<rect x="694.18" y="83.4" width="11.41" height="72.5" fill="none" stroke="#111" stroke-width="1.1"/>
<path d="M699.89 84V96.39M696.69 95.19H703.09" stroke="#fff" stroke-width="2.8" fill="none"/>
<path d="M699.89 71.6V95.19M697.49 71.6H702.29M697.49 95.19H702.29" stroke="#000" stroke-width="1.15" fill="none"/>
<text x="699.89" y="66.89" class="l">b</text>
<text x="699.89" y="47.69" class="l">D</text>
<rect x="708.87" y="73.61" width="11.41" height="82.29" fill="#fff"/>
<rect x="708.87" y="73.61" width="11.41" height="82.29" fill="url(#p3)"/>
<rect x="708.87" y="73.61" width="11.41" height="82.29" fill="none" stroke="#111" stroke-width="1.1"/>
<path d="M714.57 74.21V77.65M711.37 76.45H717.77" stroke="#fff" stroke-width="2.8" fill="none"/>
<path d="M714.57 70.78V76.45M712.17 70.78H716.97M712.17 76.45H716.97" stroke="#000" stroke-width="1.15" fill="none"/>
<text x="714.57" y="65.79" class="l">ab</text>
<text x="714.07" y="40.19" class="l">H</text>
<rect x="723.55" y="59.8" width="11.41" height="96.1" fill="#fff"/>
<rect x="723.55" y="59.8" width="11.41" height="96.1" fill="url(#p4)"/>
<rect x="723.55" y="59.8" width="11.41" height="96.1" fill="none" stroke="#111" stroke-width="1.1"/>
<path d="M729.26 59.43V60.17M726.86 59.43H731.66M726.86 60.17H731.66" stroke="#000" stroke-width="1.15" fill="none"/>
<text x="729.26" y="51.69" class="l">a</text>
<text x="728.46" y="31.49" class="l">J</text>
<rect x="738.24" y="79.74" width="11.41" height="76.16" fill="#fff"/>
<rect x="738.24" y="79.74" width="11.41" height="76.16" fill="url(#p5)"/>
<rect x="738.24" y="79.74" width="11.41" height="76.16" fill="none" stroke="#111" stroke-width="1.1"/>
<path d="M743.94 79.36V80.11M741.54 79.36H746.34M741.54 80.11H746.34" stroke="#000" stroke-width="1.15" fill="none"/>
<text x="743.94" y="72.39" class="l">ab</text>
<text x="743.94" y="47.19" class="l">N</text>
<rect x="752.92" y="67.42" width="11.41" height="88.48" fill="#fff"/>
<rect x="752.92" y="67.42" width="11.41" height="88.48" fill="url(#p6)"/>
<rect x="752.92" y="67.42" width="11.41" height="88.48" fill="none" stroke="#111" stroke-width="1.1"/>
<path d="M758.63 67.04V67.79M756.23 67.04H761.03M756.23 67.79H761.03" stroke="#000" stroke-width="1.15" fill="none"/>
<text x="758.63" y="59.89" class="l">ab</text>
<text x="758.63" y="35.69" class="l">P</text>
<rect x="446.5" y="0.5" width="330.9" height="155.4" fill="none" stroke="#000" stroke-width="1.2"/>
<path d="M446.5 155.9H450" stroke="#000" stroke-width="1"/>
<text x="435.3" y="160.2" class="t" text-anchor="end">0</text>
<path d="M446.5 133.5H450" stroke="#000" stroke-width="1"/>
<text x="435.3" y="137.8" class="t" text-anchor="end">30</text>
<path d="M446.5 111.1H450" stroke="#000" stroke-width="1"/>
<text x="435.3" y="115.4" class="t" text-anchor="end">60</text>
<path d="M446.5 88.7H450" stroke="#000" stroke-width="1"/>
<text x="435.3" y="93" class="t" text-anchor="end">90</text>
<path d="M446.5 66.3H450" stroke="#000" stroke-width="1"/>
<text x="435.3" y="70.6" class="t" text-anchor="end">120</text>
<path d="M446.5 43.89H450" stroke="#000" stroke-width="1"/>
<text x="435.3" y="48.19" class="t" text-anchor="end">150</text>
<path d="M446.5 21.49H450" stroke="#000" stroke-width="1"/>
<text x="435.3" y="25.79" class="t" text-anchor="end">180</text>
<path d="M556.67 155.9V152.4" stroke="#000" stroke-width="1"/>
<path d="M666.83 155.9V152.4" stroke="#000" stroke-width="1"/>
<text x="457.8" y="17" class="p">c</text>
<rect x="576.9" y="8.7" width="6" height="6" fill="#fff" stroke="#111" stroke-width="1.1"/>
<text x="584.7" y="15.6" class="g">T1</text>
<rect x="610.36" y="8.7" width="6" height="6" fill="#fff" stroke="#111" stroke-width="1.1"/>
<rect x="610.36" y="8.7" width="6" height="6" fill="url(#p2)"/>
<text x="618.16" y="15.6" class="g">T2</text>
<rect x="643.82" y="8.7" width="6" height="6" fill="#fff" stroke="#111" stroke-width="1.1"/>
<rect x="643.82" y="8.7" width="6" height="6" fill="url(#p3)"/>
<text x="651.62" y="15.6" class="g">T3</text>
<rect x="677.28" y="8.7" width="6" height="6" fill="#fff" stroke="#111" stroke-width="1.1"/>
<rect x="677.28" y="8.7" width="6" height="6" fill="url(#p4)"/>
<text x="685.08" y="15.6" class="g">T4</text>
<rect x="710.74" y="8.7" width="6" height="6" fill="#fff" stroke="#111" stroke-width="1.1"/>
<rect x="710.74" y="8.7" width="6" height="6" fill="url(#p5)"/>
<text x="718.54" y="15.6" class="g">T5</text>
<rect x="744.2" y="8.7" width="6" height="6" fill="#fff" stroke="#111" stroke-width="1.1"/>
<rect x="744.2" y="8.7" width="6" height="6" fill="url(#p6)"/>
<text x="752" y="15.6" class="g">T6</text>
<text transform="translate(404.6 75.7) rotate(-90)" class="y" text-anchor="middle">Cl<tspan class="s" dy="-5">-</tspan><tspan dy="5"> content (mg g</tspan><tspan class="s" dy="-5">-1</tspan><tspan dy="5"> DW)</tspan></text>
<rect x="459.16" y="309.51" width="11.41" height="16.69" fill="#fff"/>
<rect x="459.16" y="309.51" width="11.41" height="16.69" fill="none" stroke="#111" stroke-width="1.1"/>
<text x="464.87" y="301.79" class="l">a</text>
<text x="464.87" y="278.99" class="l">B</text>
<rect x="473.85" y="315.21" width="11.41" height="10.99" fill="#fff"/>
<rect x="473.85" y="315.21" width="11.41" height="10.99" fill="url(#p2)"/>
<rect x="473.85" y="315.21" width="11.41" height="10.99" fill="none" stroke="#111" stroke-width="1.1"/>
<text x="479.56" y="307.29" class="l">c</text>
<text x="478.76" y="289.29" class="l">E</text>
<rect x="488.53" y="315.21" width="11.41" height="10.99" fill="#fff"/>
<rect x="488.53" y="315.21" width="11.41" height="10.99" fill="url(#p3)"/>
<rect x="488.53" y="315.21" width="11.41" height="10.99" fill="none" stroke="#111" stroke-width="1.1"/>
<text x="494.24" y="306.79" class="l">b</text>
<text x="492.44" y="285.99" class="l">I</text>
<rect x="503.22" y="315.21" width="11.41" height="10.99" fill="#fff"/>
<rect x="503.22" y="315.21" width="11.41" height="10.99" fill="url(#p4)"/>
<rect x="503.22" y="315.21" width="11.41" height="10.99" fill="none" stroke="#111" stroke-width="1.1"/>
<text x="508.93" y="307.39" class="l">d</text>
<text x="508.93" y="285.99" class="l">L</text>
<rect x="517.9" y="317.11" width="11.41" height="9.09" fill="#fff"/>
<rect x="517.9" y="317.11" width="11.41" height="9.09" fill="url(#p5)"/>
<rect x="517.9" y="317.11" width="11.41" height="9.09" fill="none" stroke="#111" stroke-width="1.1"/>
<text x="523.61" y="309.49" class="l">e</text>
<text x="523.61" y="285.99" class="l">O</text>
<rect x="532.59" y="317.81" width="11.41" height="8.39" fill="#fff"/>
<rect x="532.59" y="317.81" width="11.41" height="8.39" fill="url(#p6)"/>
<rect x="532.59" y="317.81" width="11.41" height="8.39" fill="none" stroke="#111" stroke-width="1.1"/>
<text x="538.3" y="309.59" class="l">f</text>
<text x="538.3" y="287.09" class="l">R</text>
<rect x="569.33" y="257.8" width="11.41" height="68.4" fill="#fff"/>
<rect x="569.33" y="257.8" width="11.41" height="68.4" fill="none" stroke="#111" stroke-width="1.1"/>
<path d="M575.04 257.56V258.04M572.64 257.56H577.44M572.64 258.04H577.44" stroke="#000" stroke-width="1.15" fill="none"/>
<text x="575.04" y="250.09" class="l">d</text>
<text x="572.74" y="228.59" class="l">A</text>
<rect x="584.02" y="247.32" width="11.41" height="78.88" fill="#fff"/>
<rect x="584.02" y="247.32" width="11.41" height="78.88" fill="url(#p2)"/>
<rect x="584.02" y="247.32" width="11.41" height="78.88" fill="none" stroke="#111" stroke-width="1.1"/>
<path d="M589.72 247.08V247.56M587.32 247.08H592.12M587.32 247.56H592.12" stroke="#000" stroke-width="1.15" fill="none"/>
<text x="589.72" y="239.09" class="l">b</text>
<text x="589.72" y="221.19" class="l">D</text>
<rect x="598.7" y="241.4" width="11.41" height="84.8" fill="#fff"/>
<rect x="598.7" y="241.4" width="11.41" height="84.8" fill="url(#p3)"/>
<rect x="598.7" y="241.4" width="11.41" height="84.8" fill="none" stroke="#111" stroke-width="1.1"/>
<path d="M604.41 240.44V242.36M602.01 240.44H606.81M602.01 242.36H606.81" stroke="#000" stroke-width="1.15" fill="none"/>
<text x="604.41" y="233.49" class="l">a</text>
<text x="604.41" y="216.19" class="l">G</text>
<rect x="613.39" y="252.8" width="11.41" height="73.4" fill="#fff"/>
<rect x="613.39" y="252.8" width="11.41" height="73.4" fill="url(#p4)"/>
<rect x="613.39" y="252.8" width="11.41" height="73.4" fill="none" stroke="#111" stroke-width="1.1"/>
<path d="M619.09 252.56V253.04M616.69 252.56H621.49M616.69 253.04H621.49" stroke="#000" stroke-width="1.15" fill="none"/>
<text x="619.09" y="244.39" class="l">c</text>
<text x="619.09" y="225.99" class="l">J</text>
<rect x="628.07" y="260.4" width="11.41" height="65.8" fill="#fff"/>
<rect x="628.07" y="260.4" width="11.41" height="65.8" fill="url(#p5)"/>
<rect x="628.07" y="260.4" width="11.41" height="65.8" fill="none" stroke="#111" stroke-width="1.1"/>
<path d="M633.78 260.16V260.64M631.38 260.16H636.18M631.38 260.64H636.18" stroke="#000" stroke-width="1.15" fill="none"/>
<text x="633.78" y="252.09" class="l">e</text>
<text x="633.78" y="235.79" class="l">M</text>
<rect x="642.76" y="268" width="11.41" height="58.2" fill="#fff"/>
<rect x="642.76" y="268" width="11.41" height="58.2" fill="url(#p6)"/>
<rect x="642.76" y="268" width="11.41" height="58.2" fill="none" stroke="#111" stroke-width="1.1"/>
<path d="M648.46 267.76V268.24M646.06 267.76H650.86M646.06 268.24H650.86" stroke="#000" stroke-width="1.15" fill="none"/>
<text x="648.46" y="260.59" class="l">f</text>
<text x="648.46" y="239.79" class="l">P</text>
<rect x="679.5" y="262.8" width="11.41" height="63.4" fill="#fff"/>
<rect x="679.5" y="262.8" width="11.41" height="63.4" fill="none" stroke="#111" stroke-width="1.1"/>
<path d="M685.2 258.96V266.65M682.8 258.96H687.6M682.8 266.65H687.6" stroke="#000" stroke-width="1.15" fill="none"/>
<text x="685.2" y="255.09" class="l">ab</text>
<text x="684" y="237.09" class="l">A</text>
<rect x="694.18" y="247.51" width="11.41" height="78.69" fill="#fff"/>
<rect x="694.18" y="247.51" width="11.41" height="78.69" fill="url(#p2)"/>
<rect x="694.18" y="247.51" width="11.41" height="78.69" fill="none" stroke="#111" stroke-width="1.1"/>
<path d="M699.89 248.11V270.02M696.69 268.82H703.09" stroke="#fff" stroke-width="2.8" fill="none"/>
<path d="M699.89 226.2V268.82M697.49 226.2H702.29M697.49 268.82H702.29" stroke="#000" stroke-width="1.15" fill="none"/>
<text x="699.89" y="222.39" class="l">a</text>
<text x="698.99" y="207.09" class="l">D</text>
<rect x="708.87" y="276.3" width="11.41" height="49.9" fill="#fff"/>
<rect x="708.87" y="276.3" width="11.41" height="49.9" fill="url(#p3)"/>
<rect x="708.87" y="276.3" width="11.41" height="49.9" fill="none" stroke="#111" stroke-width="1.1"/>
<path d="M714.57 276.06V276.54M712.17 276.06H716.97M712.17 276.54H716.97" stroke="#000" stroke-width="1.15" fill="none"/>
<text x="714.57" y="268.19" class="l">ab</text>
<text x="713.37" y="246.79" class="l">H</text>
<rect x="723.55" y="274.4" width="11.41" height="51.8" fill="#fff"/>
<rect x="723.55" y="274.4" width="11.41" height="51.8" fill="url(#p4)"/>
<rect x="723.55" y="274.4" width="11.41" height="51.8" fill="none" stroke="#111" stroke-width="1.1"/>
<path d="M729.26 274.16V274.64M726.86 274.16H731.66M726.86 274.64H731.66" stroke="#000" stroke-width="1.15" fill="none"/>
<text x="729.26" y="266.59" class="l">ab</text>
<text x="728.66" y="247.39" class="l">K</text>
<rect x="738.24" y="264.3" width="11.41" height="61.9" fill="#fff"/>
<rect x="738.24" y="264.3" width="11.41" height="61.9" fill="url(#p5)"/>
<rect x="738.24" y="264.3" width="11.41" height="61.9" fill="none" stroke="#111" stroke-width="1.1"/>
<path d="M743.94 264.05V264.54M741.54 264.05H746.34M741.54 264.54H746.34" stroke="#000" stroke-width="1.15" fill="none"/>
<text x="743.94" y="256.19" class="l">ab</text>
<text x="740.94" y="236.49" class="l">N</text>
<rect x="752.92" y="288.61" width="11.41" height="37.59" fill="#fff"/>
<rect x="752.92" y="288.61" width="11.41" height="37.59" fill="url(#p6)"/>
<rect x="752.92" y="288.61" width="11.41" height="37.59" fill="none" stroke="#111" stroke-width="1.1"/>
<path d="M758.63 288.37V288.85M756.23 288.37H761.03M756.23 288.85H761.03" stroke="#000" stroke-width="1.15" fill="none"/>
<text x="758.63" y="280.89" class="l">b</text>
<text x="757.73" y="258.29" class="l">Q</text>
<rect x="446.5" y="170.4" width="330.9" height="155.8" fill="none" stroke="#000" stroke-width="1.2"/>
<path d="M446.5 326.2H450" stroke="#000" stroke-width="1"/>
<text x="435.3" y="330.5" class="t" text-anchor="end">0</text>
<path d="M446.5 302.15H450" stroke="#000" stroke-width="1"/>
<text x="435.3" y="306.45" class="t" text-anchor="end">100</text>
<path d="M446.5 278.1H450" stroke="#000" stroke-width="1"/>
<text x="435.3" y="282.4" class="t" text-anchor="end">200</text>
<path d="M446.5 254.05H450" stroke="#000" stroke-width="1"/>
<text x="435.3" y="258.35" class="t" text-anchor="end">300</text>
<path d="M446.5 230H450" stroke="#000" stroke-width="1"/>
<text x="435.3" y="234.3" class="t" text-anchor="end">400</text>
<path d="M446.5 205.95H450" stroke="#000" stroke-width="1"/>
<text x="435.3" y="210.25" class="t" text-anchor="end">500</text>
<path d="M446.5 181.9H450" stroke="#000" stroke-width="1"/>
<text x="435.3" y="186.2" class="t" text-anchor="end">600</text>
<path d="M556.67 326.2V322.7" stroke="#000" stroke-width="1"/>
<path d="M666.83 326.2V322.7" stroke="#000" stroke-width="1"/>
<text x="457.5" y="191.5" class="p">d</text>
<rect x="576.3" y="181.3" width="6" height="6" fill="#fff" stroke="#111" stroke-width="1.1"/>
<text x="584.1" y="188.2" class="g">T1</text>
<rect x="609.76" y="181.3" width="6" height="6" fill="#fff" stroke="#111" stroke-width="1.1"/>
<rect x="609.76" y="181.3" width="6" height="6" fill="url(#p2)"/>
<text x="617.56" y="188.2" class="g">T2</text>
<rect x="643.22" y="181.3" width="6" height="6" fill="#fff" stroke="#111" stroke-width="1.1"/>
<rect x="643.22" y="181.3" width="6" height="6" fill="url(#p3)"/>
<text x="651.02" y="188.2" class="g">T3</text>
<rect x="676.68" y="181.3" width="6" height="6" fill="#fff" stroke="#111" stroke-width="1.1"/>
<rect x="676.68" y="181.3" width="6" height="6" fill="url(#p4)"/>
<text x="684.48" y="188.2" class="g">T4</text>
<rect x="710.14" y="181.3" width="6" height="6" fill="#fff" stroke="#111" stroke-width="1.1"/>
<rect x="710.14" y="181.3" width="6" height="6" fill="url(#p5)"/>
<text x="717.94" y="188.2" class="g">T5</text>
<rect x="743.6" y="181.3" width="6" height="6" fill="#fff" stroke="#111" stroke-width="1.1"/>
<rect x="743.6" y="181.3" width="6" height="6" fill="url(#p6)"/>
<text x="751.4" y="188.2" class="g">T6</text>
<text transform="translate(404.8 249.5) rotate(-90)" class="y" text-anchor="middle">Cl<tspan class="s" dy="-5">-</tspan><tspan dy="5"> content (mg g</tspan><tspan class="s" dy="-5">-1</tspan><tspan dy="5"> DW)</tspan></text>
<text x="101.5" y="346.2" class="c" text-anchor="middle">0</text>
<text x="211.5" y="346.2" class="c" text-anchor="middle">25</text>
<text x="321.5" y="346.2" class="c" text-anchor="middle">50</text>
<text x="209.35" y="362.9" class="x" text-anchor="middle">Salt concentration (mM)</text>
<text x="501.58" y="346.2" class="c" text-anchor="middle">0</text>
<text x="611.75" y="346.2" class="c" text-anchor="middle">25</text>
<text x="721.92" y="346.2" class="c" text-anchor="middle">50</text>
<text x="612.35" y="362.9" class="x" text-anchor="middle">Salt concentration (mM)</text>
</svg>
</body></html>
